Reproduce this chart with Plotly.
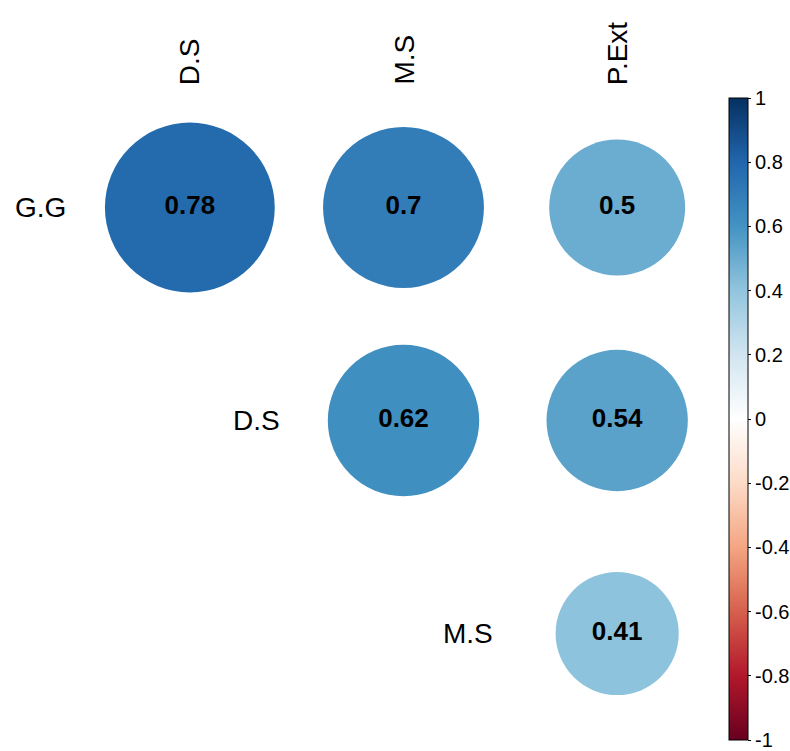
import plotly.graph_objects as go

# Upper-triangle correlation matrix (diagonal omitted)
row_vars = ["G.G", "D.S", "M.S"]
col_vars = ["D.S", "M.S", "P.Ext"]
corr = [
    [0.78, 0.70, 0.50],
    [None, 0.62, 0.54],
    [None, None, 0.41],
]
cbar_ticks = [-1, -0.8, -0.6, -0.4, -0.2, 0, 0.2, 0.4, 0.6, 0.8, 1]
cbar_labels = ["-1", "-0.8", "-0.6", "-0.4", "-0.2", "0", "0.2", "0.4", "0.6", "0.8", "1"]

rdbu = ["#67001F", "#B2182B", "#D6604D", "#F4A582", "#FDDBC7", "#FFFFFF",
        "#D1E5F0", "#92C5DE", "#4393C3", "#2166AC", "#053061"]
colorscale = [[i / (len(rdbu) - 1), c] for i, c in enumerate(rdbu)]

W, H = 790, 751
ML, MR, MT, MB = 83, 66, 101, 11
cell_px = (W - ML - MR) / len(col_vars)
max_diam = 0.9 * cell_px  # circle diameter for |r| = 1
FONT = "Liberation Sans, Arial"

xs, ys, vals, labels = [], [], [], []
for i, row in enumerate(corr):
    for j, v in enumerate(row):
        if v is None:
            continue
        xs.append(j + 1)
        ys.append(i + 1)
        vals.append(v)
        labels.append(f"{v:g}")

fig = go.Figure()
fig.add_trace(go.Scatter(
    x=xs, y=ys, mode="markers+text",
    text=labels, textposition="middle center",
    textfont=dict(family=FONT, size=26, color="black", weight="bold"),
    marker=dict(
        size=[abs(v) for v in vals], sizemode="area",
        sizeref=2.0 * 1.0 / (max_diam ** 2),
        color=vals, cmin=-1, cmax=1, colorscale=colorscale,
        line=dict(width=0), opacity=1,
        colorbar=dict(
            thickness=19, thicknessmode="pixels",
            len=642, lenmode="pixels",
            x=(729 - ML) / (W - ML - MR), xanchor="left", xpad=0,
            y=(H - MB - 98) / (H - MT - MB), yanchor="top", ypad=0,
            outlinewidth=1, outlinecolor="black",
            ticks="outside", ticklen=3, tickcolor="black", tickwidth=1,
            tickvals=cbar_ticks, ticktext=cbar_labels,
            tickfont=dict(family=FONT, size=20, color="black"),
        ),
    ),
    hoverinfo="skip", showlegend=False,
))

annotations = []
for j, name in enumerate(col_vars):
    annotations.append(dict(
        x=j + 1, xref="x", y=1, yref="paper", text=name, showarrow=False,
        textangle=-90, xanchor="center", yanchor="bottom", yshift=14,
        font=dict(family=FONT, size=28, color="black"),
    ))
for i, name in enumerate(row_vars):
    annotations.append(dict(
        x=i + 0.5, xref="x", y=i + 1, yref="y", text=name, showarrow=False,
        xanchor="right", yanchor="middle", xshift=-15,
        font=dict(family=FONT, size=28, color="black"),
    ))

fig.update_layout(
    width=W, height=H,
    margin=dict(l=ML, r=MR, t=MT, b=MB, autoexpand=False),
    paper_bgcolor="white", plot_bgcolor="white",
    xaxis=dict(range=[0.5, 3.5], visible=False, fixedrange=True),
    yaxis=dict(range=[3.5, 0.5], visible=False, fixedrange=True),
    annotations=annotations,
)

fig.write_html("out.html")
